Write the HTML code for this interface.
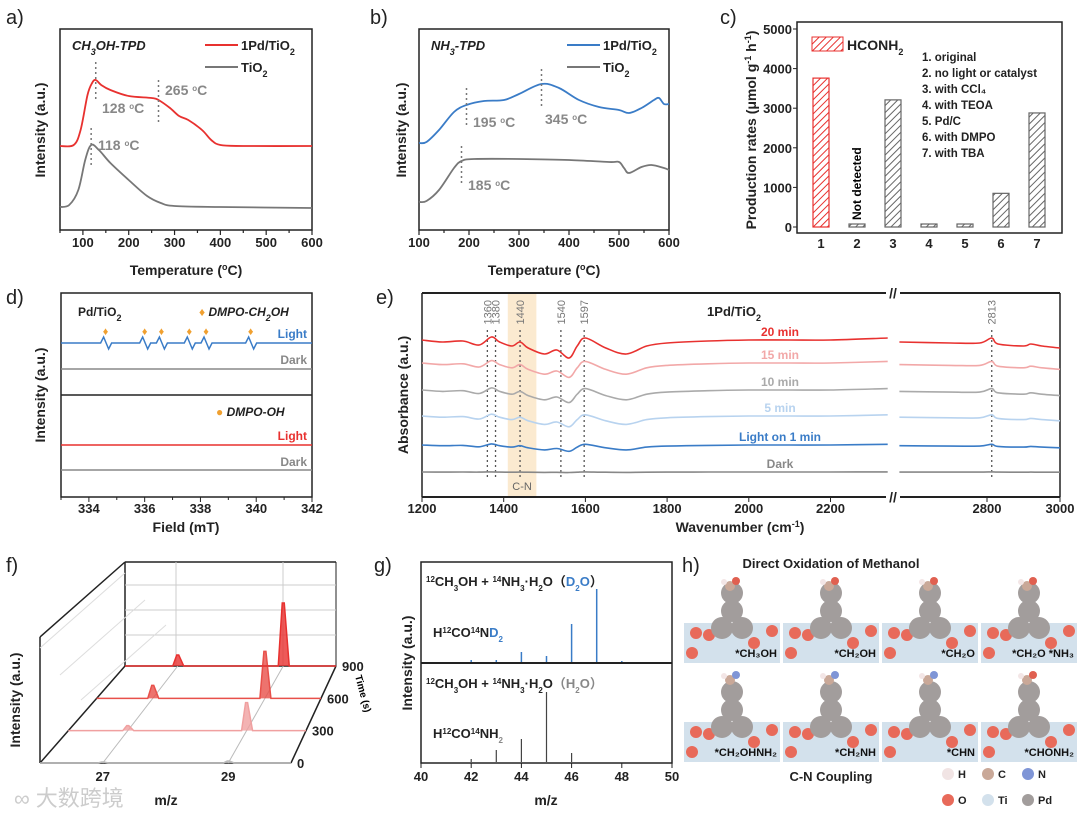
<!DOCTYPE html>
<html><head><meta charset="utf-8">
<style>
html,body{margin:0;padding:0;background:#fff;}
svg{display:block;font-family:"Liberation Sans","Noto Sans CJK SC",sans-serif;}
.b{font-weight:bold}
.tk{font-size:13px;font-weight:bold;fill:#222}
.tt{font-size:14px;font-weight:bold;fill:#222}
.pl{font-size:20px;fill:#222}
</style></head>
<body>
<svg id="fig" width="1080" height="813" viewBox="0 0 1080 813">
<defs>
<pattern id="hatchR" width="5" height="5" patternUnits="userSpaceOnUse" patternTransform="rotate(45)"><rect width="5" height="5" fill="#fff"/><line x1="0" y1="0" x2="0" y2="5" stroke="#e8312f" stroke-width="2"/></pattern>
<pattern id="hatchG" width="5" height="5" patternUnits="userSpaceOnUse" patternTransform="rotate(45)"><rect width="5" height="5" fill="#fff"/><line x1="0" y1="0" x2="0" y2="5" stroke="#666" stroke-width="2"/></pattern>
</defs>
<text class="pl" x="6" y="24">a)</text>
<text class="pl" x="370" y="24">b)</text>
<text class="pl" x="720" y="24">c)</text>
<text class="pl" x="6" y="304">d)</text>
<text class="pl" x="376" y="304">e)</text>
<text class="pl" x="6" y="572">f)</text>
<text class="pl" x="374" y="572">g)</text>
<text class="pl" x="682" y="572">h)</text>
<g id="A"></g>
<g id="B"></g>
<g id="C"></g>
<g id="D"></g>
<g id="E"></g>
<g id="F"></g>
<g id="G"></g>
<g id="H"></g>
<text x="14" y="806" font-size="22" fill="#ccc">∞ 大数跨境</text>
</svg>
<script>
// ---------- DATA ----------
// panel a: temperature (°C) and intensity (a.u. scaled 0-201)
const aRedT=[50,80,95,110,120,128,140,160,200,250,265,290,310,330,360,380,400,450,600];
const aRedV=[84,85,100,135,147,150,145,140,134,132,130,122,114,110,100,90,85,84,84];
const aGrayT=[50,70,90,105,118,135,160,200,240,270,300,400,600];
const aGrayV=[23,25,40,70,85,80,67,50,34,27,24,23,22];
// panel b
const bBlueT=[100,115,140,170,195,230,270,300,345,380,420,460,500,520,545,570,580,590,600];
const bBlueV=[87,88,100,118,125,129,130,136,146,142,130,123,120,117,122,130,132,126,126];
const bGrayT=[100,115,140,170,185,210,300,400,480,500,510,520,545,565,590,600];
const bGrayV=[28,29,40,62,69,71,71,70,68,68,62,57,63,65,62,60];
// panel c
const cCats=["1","2","3","4","5","6","7"];
const cVals=[3760,30,3210,50,50,850,2880];
const cTicks=[0,1000,2000,3000,4000,5000];
const cList=["1. original","2. no light or catalyst","3. with CCl₄","4. with TEOA","5. Pd/C","6. with DMPO","7. with TBA"];
// panel d
const dPeaks=[334.6,336.0,336.6,337.6,338.2,339.8];
const dTicks=[334,336,338,340,342];
// panel e
const eWnL=[1200,1250,1300,1340,1370,1390,1420,1440,1460,1500,1530,1560,1580,1600,1650,1700,1750,1800,1900,2000,2100,2200,2340];
const eShapeL=[0,2,1,5,-3,2,6,2,8,14,10,18,6,-2,8,14,6,3,1,0,0,0,-2];
const eWnR=[2560,2700,2780,2813,2830,2900,2920,2950,3000];
const eShapeR=[0,1,1,-4,2,4,2,4,6];
const eNames=["20 min","15 min","10 min","5 min","Light on 1 min","Dark"];
const eOffsets=[340,363,390,416,445,472];
const eAmps=[1,0.8,0.7,0.6,0.35,0.03];
const eMarks=[1360,1380,1440,1540,1597];
const eTicksL=[1200,1400,1600,1800,2000,2200];
const eTicksR=[2800,3000];
// panel f
const fTimes=[0,300,600,900];
const fPeak27=[1,5,13,11];
const fPeak29=[2,28,47,63];
// panel g
const gMz=[42,43,44,45,46,47,48];
const gD2O=[2,2,10,6,38,73,1];
const gH2O=[3,12,23,70,9,0,0];
const gTicks=[40,42,44,46,48,50];

// ---------- HELPERS ----------
const NS="http://www.w3.org/2000/svg";
function mk(tag,attrs,parent){const e=document.createElementNS(NS,tag);for(const k in attrs)e.setAttribute(k,attrs[k]);parent.appendChild(e);return e;}
function smooth(pts){let d="M"+pts[0][0]+","+pts[0][1];for(let i=0;i<pts.length-1;i++){const p0=pts[i-1]||pts[i],p1=pts[i],p2=pts[i+1],p3=pts[i+2]||p2;const c1x=p1[0]+(p2[0]-p0[0])/6,c1y=p1[1]+(p2[1]-p0[1])/6,c2x=p2[0]-(p3[0]-p1[0])/6,c2y=p2[1]-(p3[1]-p1[1])/6;d+=" C"+c1x.toFixed(1)+","+c1y.toFixed(1)+" "+c2x.toFixed(1)+","+c2y.toFixed(1)+" "+p2[0].toFixed(1)+","+p2[1].toFixed(1);}return d;}
function txt(parent,x,y,s,cls,extra){const t=mk("text",Object.assign({x:x,y:y},extra||{}),parent);if(cls)t.setAttribute("class",cls);t.innerHTML=s;return t;}

// ---------- PANEL A & B ----------
function tpd(g,x0,x1,tmin,tmax,ticks,series,label,ytx,legendX,ann){
  const xs=t=>x0+(t-tmin)/(tmax-tmin)*(x1-x0);
  const ys=v=>230-v;
  const box=mk("rect",{x:x0,y:29,width:x1-x0,height:201,fill:"none",stroke:"#222","stroke-width":1.5},g);
  
  
  for(let t=tmin;t<=tmax;t+=50){const major=ticks.includes(t);const l=mk("line",{x1:xs(t),x2:xs(t),y1:230,y2:major?235:233,stroke:"#222","stroke-width":1.2},g);
    
    
    if(major){const tl=txt(g,xs(t),247,t,"tk",{"text-anchor":"middle"});
      
      }}
  const xt=txt(g,(x0+x1)/2,275,"Temperature (<tspan baseline-shift='super' font-size='9'>o</tspan>C)","tt",{"text-anchor":"middle"});
  
  
  const yt=txt(g,0,0,"Intensity (a.u.)","tt",{"text-anchor":"middle",transform:"translate("+ytx+",130) rotate(-90)"});
  
  
  const lb=txt(g,x0+12,50,label,null,{"font-size":13,"font-weight":"bold","font-style":"italic",fill:"#222"});
  
  
  series.forEach((s,i)=>{
    const p=mk("path",{d:smooth(s.T.map((t,j)=>[xs(t),ys(s.V[j])])),fill:"none",stroke:s.c,"stroke-width":1.8},g);
    
    
    const ly=45+i*22;
    const ll=mk("line",{x1:legendX,x2:legendX+33,y1:ly,y2:ly,stroke:s.c,"stroke-width":2},g);
    
    
    const lt=txt(g,legendX+36,ly+5,s.lab,null,{"font-size":13,"font-weight":"bold",fill:"#222"});
    
    
  });
  ann.forEach(a=>{
    const l=mk("line",{x1:xs(a.t),x2:xs(a.t),y1:a.y1,y2:a.y2,stroke:"#777","stroke-width":1.5,"stroke-dasharray":"2,3"},g);
    
    
    const t=txt(g,a.tx,a.ty,a.t+" <tspan baseline-shift='super' font-size='8'>o</tspan>C",null,{"font-size":14,"font-weight":"bold",fill:"#888"});
    
    
  });
}
tpd(document.getElementById("A"),60,312,50,600,[100,200,300,400,500,600],
 [{T:aRedT,V:aRedV,c:"#e8312f",n:"pd-tio2",lab:"1Pd/TiO<tspan baseline-shift='sub' font-size='9'>2</tspan>"},
  {T:aGrayT,V:aGrayV,c:"#777",n:"tio2",lab:"TiO<tspan baseline-shift='sub' font-size='9'>2</tspan>"}],
 "CH<tspan baseline-shift='sub' font-size='9'>3</tspan>OH-TPD",45,205,
 [{t:128,y1:62,y2:100,tx:102,ty:113},{t:265,y1:80,y2:122,tx:165,ty:95},{t:118,y1:128,y2:168,tx:98,ty:150}]);
tpd(document.getElementById("B"),419,669,100,600,[100,200,300,400,500,600],
 [{T:bBlueT,V:bBlueV,c:"#3a7cc7",n:"pd-tio2",lab:"1Pd/TiO<tspan baseline-shift='sub' font-size='9'>2</tspan>"},
  {T:bGrayT,V:bGrayV,c:"#777",n:"tio2",lab:"TiO<tspan baseline-shift='sub' font-size='9'>2</tspan>"}],
 "NH<tspan baseline-shift='sub' font-size='9'>3</tspan>-TPD",406,567,
 [{t:195,y1:88,y2:128,tx:473,ty:127},{t:345,y1:69,y2:108,tx:545,ty:124},{t:185,y1:146,y2:186,tx:468,ty:190}]);

// ---------- PANEL C ----------
(function(){
  const g=document.getElementById("C");
  const x0=797,x1=1062,yb=227,yt=29;
  const ys=v=>yb-(v/5000)*(yb-yt);
  const xs=i=>821+i*36;
  const f=mk("rect",{x:x0,y:22,width:x1-x0,height:211,fill:"none",stroke:"#222","stroke-width":1.5},g);
  
  
  cTicks.forEach(v=>{const l=mk("line",{x1:x0-4,x2:x0,y1:ys(v),y2:ys(v),stroke:"#222"},g);
    
    
    const t=txt(g,x0-5,ys(v)+5,v,"tk",{"text-anchor":"end"});
    
    });
  cCats.forEach((c,i)=>{
    const h=Math.max(yb-ys(cVals[i]),3);
    const r=mk("rect",{x:xs(i)-8,y:yb-h,width:16,height:h,fill:i===0?"url(#hatchR)":"url(#hatchG)",stroke:i===0?"#e8312f":"#666","stroke-width":1.2},g);
    
    
    const t=txt(g,xs(i),248,c,"tk",{"text-anchor":"middle"});
    
    
  });
  const nd=txt(g,0,0,"Not detected",null,{"font-size":12,"font-weight":"bold",transform:"translate("+(xs(1)+4)+",220) rotate(-90)"});
  
  
  const yl=txt(g,0,0,"Production rates (μmol g<tspan baseline-shift='super' font-size='9'>-1</tspan> h<tspan baseline-shift='super' font-size='9'>-1</tspan>)","tt",{"text-anchor":"middle",transform:"translate(756,130) rotate(-90)"});
  
  
  const ls=mk("rect",{x:812,y:37,width:31,height:14,fill:"url(#hatchR)",stroke:"#e8312f"},g);
  
  
  const lt=txt(g,847,50,"HCONH<tspan baseline-shift='sub' font-size='9'>2</tspan>",null,{"font-size":14,"font-weight":"bold",fill:"#222"});
  
  
  cList.forEach((s,i)=>{const t=txt(g,922,61+i*16,s,null,{"font-size":11.5,"font-weight":"bold",fill:"#222"});
    
    });
})();

// ---------- PANEL D ----------
(function(){
  const g=document.getElementById("D");
  const xs=m=>61+(m-333)/9*251;
  const f=mk("rect",{x:61,y:293,width:251,height:204,fill:"none",stroke:"#222","stroke-width":1.5},g);
  
  
  const dv=mk("line",{x1:61,x2:312,y1:395,y2:395,stroke:"#222","stroke-width":1.5},g);
  
  
  for(let m=333;m<=342;m++){const l=mk("line",{x1:xs(m),x2:xs(m),y1:497,y2:m%2===0?502:500,stroke:"#222"},g);
    
    }
  dTicks.forEach(m=>{const t=txt(g,xs(m),513,m,"tk",{"text-anchor":"middle"});
    
    });
  const xt=txt(g,186,532,"Field (mT)","tt",{"text-anchor":"middle"});
  
  
  const yt=txt(g,0,0,"Intensity (a.u.)","tt",{"text-anchor":"middle",transform:"translate(45,395) rotate(-90)"});
  
  
  // blue light with peaks
  let pts=[[61,343]];
  dPeaks.forEach(p=>{pts.push([xs(p)-5,343]);pts.push([xs(p)-2,337]);pts.push([xs(p)+3,349]);pts.push([xs(p)+6,343]);});
  pts.push([312,343]);
  const bl=mk("polyline",{points:pts.map(p=>p.join(",")).join(" "),fill:"none",stroke:"#3a7cc7","stroke-width":1.5},g);
  
  
  [[369,"#888","dark-ch2oh-spectrum"],[445,"#e8312f","light-oh-spectrum"],[470,"#888","dark-oh-spectrum"]].forEach(s=>{
    const l=mk("line",{x1:61,x2:312,y1:s[0],y2:s[0],stroke:s[1],"stroke-width":1.5},g);
    
    });
  dPeaks.forEach(p=>{const d=txt(g,xs(p),335,"♦",null,{"text-anchor":"middle","font-size":11,fill:"#f0a030"});
    
    });
  const labs=[[78,316,"Pd/TiO<tspan baseline-shift='sub' font-size='9'>2</tspan>","#222",null,"sample-label"],
   [199,316,"<tspan fill='#f0a030'>♦</tspan> <tspan font-style='italic'>DMPO-CH<tspan baseline-shift='sub' font-size='9'>2</tspan>OH</tspan>","#222",null,"adduct-label"],
   [307,338,"Light","#3a7cc7","end","light-label"],[307,364,"Dark","#888","end","dark-label"],
   [216,416,"<tspan fill='#f0a030'>●</tspan> <tspan font-style='italic'>DMPO-OH</tspan>","#222",null,"adduct-label"],
   [307,440,"Light","#e8312f","end","light-label"],[307,466,"Dark","#888","end","dark-label"]];
  labs.forEach(l=>{const t=txt(g,l[0],l[1],l[2],null,{"font-size":12,"font-weight":"bold",fill:l[3]});if(l[4])t.setAttribute("text-anchor",l[4]);
    
    });
})();

// ---------- PANEL E ----------
(function(){
  const g=document.getElementById("E");
  const xl=w=>422+(w-1200)/200*81.7;
  const xr=w=>987+(w-2800)*0.365;
  const band=mk("rect",{x:xl(1410),y:293,width:xl(1480)-xl(1410),height:204,fill:"#fbead0"},g);
  
  
  [[422,886],[900,1060]].forEach(s=>{
    [293,497].forEach(y=>{const l=mk("line",{x1:s[0],x2:s[1],y1:y,y2:y,stroke:"#222","stroke-width":2},g);
      
      });});
  [[422],[1060]].forEach(s=>{const l=mk("line",{x1:s[0],x2:s[0],y1:293,y2:497,stroke:"#222","stroke-width":1.5},g);
    
    });
  [293,497].forEach(y=>{const b=txt(g,893,y+5,"//",null,{"text-anchor":"middle","font-size":14,"font-weight":"bold",fill:"#222"});
    
    });
  eTicksL.forEach(w=>{const t=txt(g,xl(w),513,w,"tk",{"text-anchor":"middle"});
    
    
    const l=mk("line",{x1:xl(w),x2:xl(w),y1:497,y2:502,stroke:"#222"},g);
    
    });
  eTicksR.forEach(w=>{const t=txt(g,xr(w),513,w,"tk",{"text-anchor":"middle"});
    
    
    const l=mk("line",{x1:xr(w),x2:xr(w),y1:497,y2:502,stroke:"#222"},g);
    
    });
  const xt=txt(g,740,532,"Wavenumber (cm<tspan baseline-shift='super' font-size='9'>-1</tspan>)","tt",{"text-anchor":"middle"});
  
  
  const yt=txt(g,0,0,"Absorbance (a.u.)","tt",{"text-anchor":"middle",transform:"translate(408,395) rotate(-90)"});
  
  
  eMarks.concat([2813]).forEach(w=>{const x=w>2500?xr(w):xl(w);
    const l=mk("line",{x1:x,x2:x,y1:330,y2:478,stroke:"#555","stroke-width":1.3,"stroke-dasharray":"2,3"},g);
    
    
    const t=txt(g,0,0,w,null,{"font-size":11,fill:"#777","text-anchor":"end",transform:"translate("+(x+4)+",300) rotate(-90)"});
    
    });
  const cols=["#e8312f","#f2a8a8","#aaaaaa","#b8d3ef","#3a7cc7","#888"];
  eNames.forEach((n,i)=>{
    const pl=mk("path",{d:smooth(eWnL.map((w,j)=>[xl(w),eOffsets[i]+eShapeL[j]*eAmps[i]])),fill:"none",stroke:cols[i],"stroke-width":1.6},g);
    
    
    const pr=mk("path",{d:smooth(eWnR.map((w,j)=>[xr(w),eOffsets[i]+2*eAmps[i]+eShapeR[j]*eAmps[i]])),fill:"none",stroke:cols[i],"stroke-width":1.6},g);
    
    
    const t=txt(g,780,eOffsets[i]-4,n,null,{"font-size":12,"font-weight":"bold",fill:cols[i],"text-anchor":"middle"});
    
    });
  const cn=txt(g,(xl(1410)+xl(1480))/2,490,"C-N",null,{"font-size":11,fill:"#666","text-anchor":"middle"});
  
  
  const tl=txt(g,734,316,"1Pd/TiO<tspan baseline-shift='sub' font-size='9'>2</tspan>",null,{"font-size":13,"font-weight":"bold",fill:"#222","text-anchor":"middle"});
  
  
})();

// ---------- PANEL F ----------
(function(){
  const g=document.getElementById("F");
  // floor projection: front t=0 (x 40..291, y 763), back t=900 (x 125..336, y 666)
  const P=(mz,t)=>{const f=t/900;const xa=40+85*f,xb=291+45*f;return [xa+(mz-26)/4*(xb-xa),763-97*f];};
  const L=(a,b,st,w,n)=>{const l=mk("line",{x1:a[0],y1:a[1],x2:b[0],y2:b[1],stroke:st,"stroke-width":w},g);
    
    return l;};
  // back wall
  L([125,562],[336,562],"#222",1.5,"back-wall-top");L([125,562],[125,666],"#222",1.5,"back-wall-edge");L([336,562],[336,666],"#222",1,"back-wall-edge");
  [585,610,635].forEach(y=>L([125,y],[336,y],"#ccc",1,"back-gridline"));
  [176,283].forEach(x=>L([x,562],[x,666],"#ccc",1,"back-gridline"));
  // left wall
  L([40,637],[125,562],"#222",1.5,"left-wall-top");L([40,637],[40,763],"#222",1.5,"left-wall-edge");
  [[55,648],[75,675],[96,700]].forEach((p,i)=>L([p[0]-15,p[1]+(i*0)-0],[p[0]-15+85,p[1]-75],"#ddd",1,"left-gridline"));
  // floor
  L(P(26,0),P(30,0),"#222",1.5,"floor-front");L(P(30,0),P(30,900),"#222",1.5,"floor-right");L(P(26,0),P(26,900),"#222",1.5,"floor-left");L(P(26,900),P(30,900),"#222",1.5,"floor-back");
  [27,29].forEach(m=>L(P(m,0),P(m,900),"#bbb",1,"floor-gridline"));
  const cols=["#bbb","#f0a0a0","#e8504a","#e8312f"];
  fTimes.forEach((t,i)=>{
    const a=P(26,t),b=P(30,t);
    const mzPk=[27,29],hs=[fPeak27[i],fPeak29[i]];
    let d="M"+a[0]+","+a[1];
    mzPk.forEach((m,k)=>{const p=P(m,t);d+=" L"+(p[0]-5)+","+p[1]+" L"+(p[0]-1)+","+(p[1]-hs[k])+" L"+(p[0]+1)+","+(p[1]-hs[k])+" L"+(p[0]+6)+","+p[1];});
    d+=" L"+b[0]+","+b[1];
    const pth=mk("path",{d:d,fill:cols[i],"fill-opacity":0.8,stroke:cols[i],"stroke-width":1.5},g);
    
    
    const tl=txt(g,b[0]+6,b[1]+5,t,"tk");
    
    
  });
  const tt=txt(g,0,0,"Time (s)",null,{"font-size":10,"font-weight":"bold",transform:"translate(355,676) rotate(75)"});
  
  
  [27,29].forEach(m=>{const p=P(m,0);const t=txt(g,p[0],781,m,"tk",{"text-anchor":"middle"});
    
    });
  const xt=txt(g,166,805,"m/z","tt",{"text-anchor":"middle"});
  
  
  const yt=txt(g,0,0,"Intensity (a.u.)","tt",{"text-anchor":"middle",transform:"translate(20,700) rotate(-90)"});
  
  
})();

// ---------- PANEL G ----------
(function(){
  const g=document.getElementById("G");
  const xs=m=>421+(m-40)*25.1;
  const f=mk("rect",{x:421,y:562,width:251,height:201,fill:"none",stroke:"#222","stroke-width":1.5},g);
  
  
  const dv=mk("line",{x1:421,x2:672,y1:663,y2:663,stroke:"#222","stroke-width":2},g);
  
  
  gTicks.forEach(m=>{const t=txt(g,xs(m),781,m,"tk",{"text-anchor":"middle"});
    
    
    const l=mk("line",{x1:xs(m),x2:xs(m),y1:763,y2:768,stroke:"#222"},g);
    
    });
  gMz.forEach((m,i)=>{
    const b1=mk("line",{x1:xs(m),x2:xs(m),y1:662,y2:662-gD2O[i],stroke:"#3a7cc7","stroke-width":1.5},g);
    
    
    const b2=mk("line",{x1:xs(m),x2:xs(m),y1:762,y2:762-gH2O[i],stroke:"#444","stroke-width":1.2},g);
    
    });
  const sup=s=>"<tspan baseline-shift='super' font-size='8'>"+s+"</tspan>",sub=s=>"<tspan baseline-shift='sub' font-size='8'>"+s+"</tspan>";
  const L=[[426,586,sup("12")+"CH"+sub("3")+"OH + "+sup("14")+"NH"+sub("3")+"·H"+sub("2")+"O（<tspan fill='#3a7cc7'>D"+sub("2")+"O</tspan>）","reaction-label-d2o"],
    [433,637,"H"+sup("12")+"CO"+sup("14")+"N<tspan fill='#3a7cc7'>D"+sub("2")+"</tspan>","product-label-d2o"],
    [426,688,sup("12")+"CH"+sub("3")+"OH + "+sup("14")+"NH"+sub("3")+"·H"+sub("2")+"O<tspan fill='#888'>（H"+sub("2")+"O）</tspan>","reaction-label-h2o"],
    [433,738,"H"+sup("12")+"CO"+sup("14")+"NH<tspan fill='#888'>"+sub("2")+"</tspan>","product-label-h2o"]];
  L.forEach(l=>{const t=txt(g,l[0],l[1],l[2],null,{"font-size":13,"font-weight":"bold",fill:"#222"});
    
    });
  const xt=txt(g,546,805,"m/z","tt",{"text-anchor":"middle"});
  
  
  const yt=txt(g,0,0,"Intensity (a.u.)","tt",{"text-anchor":"middle",transform:"translate(412,663) rotate(-90)"});
  
  
})();

// ---------- PANEL H ----------
(function(){
  const g=document.getElementById("H");
  const t1=txt(g,831,568,"Direct Oxidation of Methanol",null,{"font-size":13,"font-weight":"bold","text-anchor":"middle",fill:"#222"});
  
  
  const t2=txt(g,831,781,"C-N Coupling",null,{"font-size":13,"font-weight":"bold","text-anchor":"middle",fill:"#222"});
  
  
  const labels=[["*CH₃OH","*CH₂OH","*CH₂O","*CH₂O *NH₃"],["*CH₂OHNH₂","*CH₂NH","*CHN","*CHONH₂"]];
  [[578,663],[672,762]].forEach((r,ri)=>{
    for(let c=0;c<4;c++){
      const x=684+c*99,w=96;
      const tg=mk("g",{},g);
      
      
      mk("rect",{x:x,y:r[1]-40,width:w,height:40,fill:"#d3e1ec"},tg);
      [[8,r[1]-10],[25,r[1]-28],[70,r[1]-20],[88,r[1]-32],[12,r[1]-30]].forEach(p=>mk("circle",{cx:x+p[0],cy:p[1],r:6,fill:"#e86a5a"},tg));
      [[38,r[1]-35],[58,r[1]-35],[48,r[1]-52],[48,r[1]-70]].forEach(p=>mk("circle",{cx:x+p[0],cy:p[1],r:11,fill:"#a29d9c"},tg));
      mk("circle",{cx:x+46,cy:r[0]+8,r:5,fill:"#c9a898"},tg);
      mk("circle",{cx:x+52,cy:r[0]+3,r:4,fill:ri&&c<3?"#7f95d6":"#e06050"},tg);
      mk("circle",{cx:x+40,cy:r[0]+4,r:3,fill:"#f3e6e6"},tg);
      const lt=txt(tg,x+w-3,r[1]-6,labels[ri][c],null,{"font-size":11,"font-weight":"bold","text-anchor":"end",fill:"#111"});
      
      
    }});
  [["H","#f1e4e4",948,774],["C","#c9a898",988,774],["N","#7f95d6",1028,774],["O","#e86a5a",948,800],["Ti","#d3e1ec",988,800],["Pd","#a29d9c",1028,800]].forEach(a=>{
    const c=mk("circle",{cx:a[2],cy:a[3],r:6,fill:a[1]},g);
    
    
    const t=txt(g,a[2]+10,a[3]+4,a[0],null,{"font-size":11,"font-weight":"bold",fill:"#222"});
    
    });
})();
</script>
</body></html>
